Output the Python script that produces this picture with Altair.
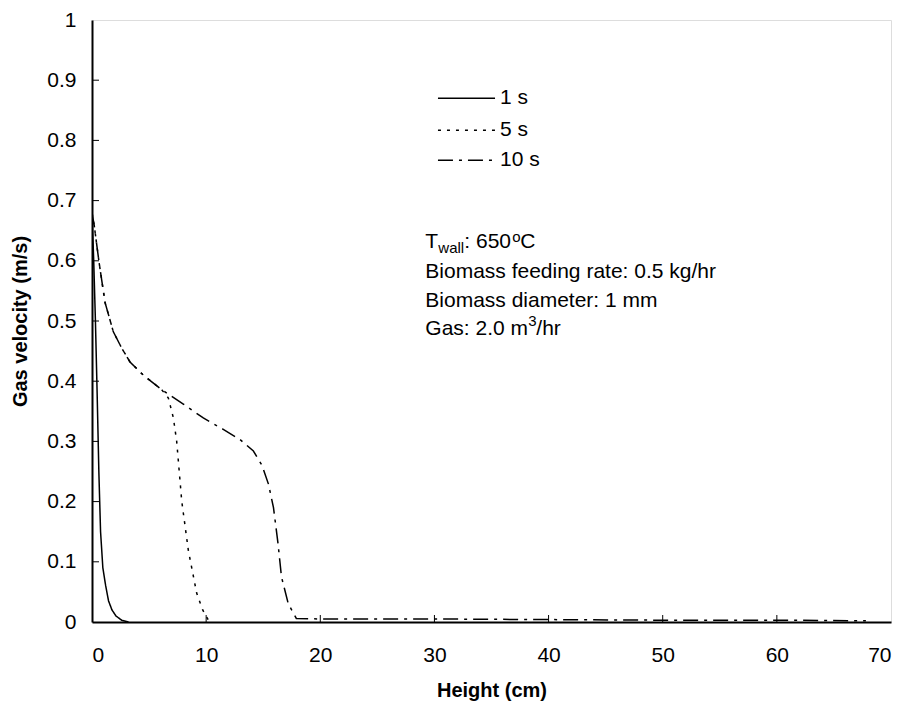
import altair as alt
import pandas as pd

# ---- data ----
x_1s = [0, 0.15, 0.3, 0.45, 0.6, 0.75, 0.95, 1.2, 1.45, 1.75, 2.1, 2.6, 3.2]
y_1s = [0.68, 0.6, 0.5, 0.38, 0.25, 0.15, 0.09, 0.06, 0.035, 0.02, 0.01, 0.003, 0.0]

x_5s = [0, 0.2, 0.6, 1.14, 1.87, 2.6, 3.33, 4.5, 6.1, 6.69, 7.13, 7.42, 7.86, 8.44, 9.17, 9.7, 10.2]
y_5s = [0.68, 0.658, 0.6, 0.531, 0.482, 0.455, 0.432, 0.41, 0.386, 0.372, 0.339, 0.3, 0.201, 0.119, 0.048, 0.02, 0.003]

x_10s = [0, 0.2, 0.6, 1.14, 1.87, 2.6, 3.33, 4.5, 6.1, 8, 9.75, 11.5, 12.97, 14.14, 14.9,
         15.46, 15.9, 16.3, 16.6, 17.2, 17.9, 20, 30, 40, 50, 60, 67.8]
y_10s = [0.68, 0.658, 0.6, 0.531, 0.482, 0.455, 0.432, 0.41, 0.386, 0.362, 0.339, 0.32, 0.303,
         0.284, 0.26, 0.229, 0.19, 0.13, 0.075, 0.03, 0.006, 0.005, 0.005, 0.004, 0.003, 0.003, 0.002]

series_names = ["1 s", "5 s", "10 s"]
dashes = [[1, 0], [3, 6], [15, 6, 3, 6]]

x_ticks = [0, 10, 20, 30, 40, 50, 60, 70]
y_ticks = [0, 0.1, 0.2, 0.3, 0.4, 0.5, 0.6, 0.7, 0.8, 0.9, 1]
x_inner_ticks = [10, 20, 30, 40, 50, 60]
y_inner_ticks = [0.1, 0.2, 0.3, 0.4, 0.5, 0.6, 0.7, 0.8, 0.9]

note_lines = ["Biomass feeding rate: 0.5 kg/hr", "Biomass diameter: 1 mm"]

# ---- layout (annotation / legend placement, in data units) ----
note_x = 29.2
note_y = [0.621, 0.571, 0.523, 0.477]
leg_x0, leg_x1 = 30.31, 35.31
leg_y = [0.870, 0.817, 0.767]

FONT = "Liberation Sans"
W, H = 799, 602

rows = []
for name, xs, ys in [("1 s", x_1s, y_1s), ("5 s", x_5s, y_5s), ("10 s", x_10s, y_10s)]:
    for a, b in zip(xs, ys):
        rows.append({"series": name, "height": a, "vel": b})
df = pd.DataFrame(rows)

xscale = alt.Scale(domain=[0, 70], nice=False, zero=False)
yscale = alt.Scale(domain=[0, 1], nice=False, zero=False)
dscale = alt.Scale(domain=series_names, range=dashes)

lines = alt.Chart(df).mark_line(color="black", strokeWidth=1.5, clip=True).encode(
    x=alt.X("height:Q", scale=xscale,
            axis=alt.Axis(title="Height (cm)", values=x_ticks, format="~g", grid=False, ticks=False,
                          domainColor="black", domainWidth=2, labelColor="black",
                          labelFont=FONT, labelFontSize=21, labelPadding=22,
                          titleFont=FONT, titleFontSize=20, titleFontWeight="bold",
                          titleColor="black", titlePadding=15)),
    y=alt.Y("vel:Q", scale=yscale,
            axis=alt.Axis(title="Gas velocity (m/s)", values=y_ticks, format="~g", grid=False, ticks=False,
                          domainColor="black", domainWidth=2, labelColor="black",
                          labelFont=FONT, labelFontSize=21, labelPadding=16,
                          titleFont=FONT, titleFontSize=20, titleFontWeight="bold",
                          titleColor="black", titlePadding=16)),
    strokeDash=alt.StrokeDash("series:N", scale=dscale, legend=None),
    detail="series:N",
)

# manual legend
leg_df = pd.DataFrame({"series": series_names, "x0": [leg_x0] * 3, "x1": [leg_x1] * 3, "y": leg_y})
leg_lines = alt.Chart(leg_df).mark_rule(color="black", strokeWidth=1.5).encode(
    x=alt.X("x0:Q", scale=xscale), x2="x1:Q", y=alt.Y("y:Q", scale=yscale),
    strokeDash=alt.StrokeDash("series:N", scale=dscale, legend=None))
leg_text = alt.Chart(leg_df).mark_text(align="left", baseline="middle", font=FONT, fontSize=21,
                                       color="black", dx=5).encode(
    x=alt.X("x1:Q", scale=xscale), y=alt.Y("y:Q", scale=yscale), text="series:N")

ytick_df = pd.DataFrame({"v": y_inner_ticks})
yticks = alt.Chart(ytick_df).mark_rule(color="black", strokeWidth=1).encode(
    y=alt.Y("v:Q", scale=yscale), x=alt.value(0), x2=alt.value(7))
xtick_df = pd.DataFrame({"v": x_inner_ticks})
xticks = alt.Chart(xtick_df).mark_rule(color="black", strokeWidth=1).encode(
    x=alt.X("v:Q", scale=xscale), y=alt.value(H), y2=alt.value(H - 7))

def txt(s, y, dx=0, dy=0, size=21):
    d = pd.DataFrame({"x": [note_x], "y": [y], "t": [s]})
    return alt.Chart(d).mark_text(align="left", baseline="alphabetic", font=FONT, fontSize=size,
                                  color="black", dx=dx, dy=dy).encode(
        x=alt.X("x:Q", scale=xscale), y=alt.Y("y:Q", scale=yscale), text="t:N")

notes = [
    txt("T", note_y[0]),
    txt("wall", note_y[0], dx=13, dy=5, size=15),
    txt(": 650", note_y[0], dx=39),
    txt("o", note_y[0], dx=87, dy=-6, size=15),
    txt("C", note_y[0], dx=95),
    txt(note_lines[0], note_y[1]),
    txt(note_lines[1], note_y[2]),
    txt("Gas: 2.0 m", note_y[3]),
    txt("3", note_y[3], dx=103, dy=-9, size=15),
    txt("/hr", note_y[3], dx=111),
]

chart = alt.layer(lines, yticks, xticks, leg_lines, leg_text, *notes).properties(
    width=W, height=H,
    autosize=alt.AutoSizeParams(type="none"),
    padding={"left": 84, "top": 12, "right": 8, "bottom": 80},
).configure_view(stroke="black", strokeWidth=1.5).configure(background="white")

chart.save("out.html", embed_options={"renderer": "svg", "actions": False})
